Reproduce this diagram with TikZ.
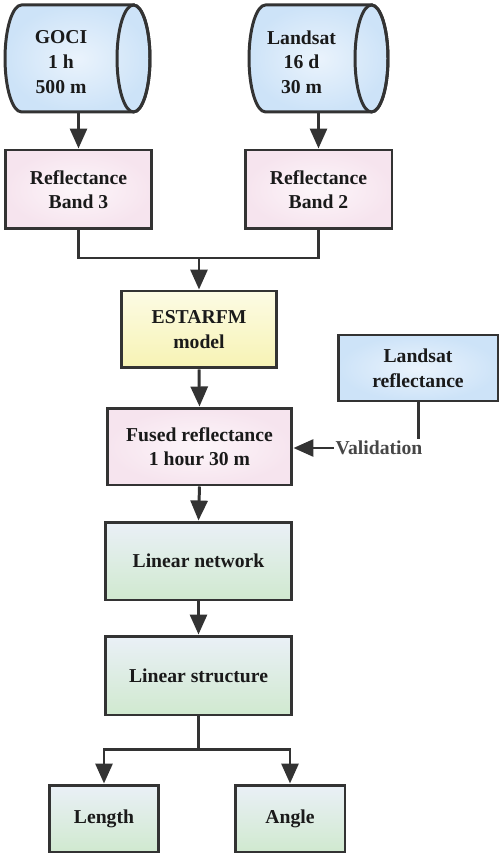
\documentclass[tikz,border=0pt]{standalone}
\usepackage{fontspec}
\setmainfont{Liberation Serif}
\usepackage{tikz}
\usetikzlibrary{arrows.meta,calc,positioning}

\definecolor{edge}{HTML}{333333}
\definecolor{ink}{HTML}{1A1A1A}
\definecolor{bluein}{HTML}{EAF3FC}
\definecolor{blueout}{HTML}{CDE3F8}
\definecolor{pinkin}{HTML}{FDF6FA}
\definecolor{pinkout}{HTML}{F6E4EE}
\definecolor{yeltop}{HTML}{FCFBE4}
\definecolor{yelbot}{HTML}{F7F3B4}
\definecolor{grntop}{HTML}{EAF0F7}
\definecolor{grnbot}{HTML}{D0E9CF}

\tikzset{
  base/.style={draw=edge,line width=1.7pt,align=center,text=ink,
    font=\bfseries\fontsize{11.2}{14}\selectfont,inner sep=2pt},
  cyltext/.style={base,draw=none,rectangle},
  pinkbox/.style={base,rectangle,shade,inner color=pinkin,outer color=pinkout},
  yelbox/.style={base,rectangle,shade,top color=yeltop,bottom color=yelbot},
  bluebox/.style={base,rectangle,shade,inner color=bluein,outer color=blueout},
  grnbox/.style={base,rectangle,shade,top color=grntop,bottom color=grnbot},
  link/.style={draw=edge,line width=1.7pt},
  arr/.style={link,-{Triangle[length=4mm,width=3.4mm]}}
}

\begin{document}
\begin{tikzpicture}[x=0.02cm,y=-0.02cm]
\useasboundingbox (0,0) rectangle (500,857);
% data cylinders
\foreach \l/\r in {5/150,249/388}{
  \path[shade,inner color=bluein,outer color=blueout,draw=edge,line width=1.7pt]
    ({\r-16.5},5) -- ({\l+16.5},5)
    arc[start angle=90,end angle=270,x radius=0.33cm,y radius=1.07cm]
    -- ({\r-16.5},112)
    arc[start angle=-90,end angle=90,x radius=0.33cm,y radius=1.07cm] -- cycle;
  \draw[edge,line width=1.7pt] ({\r-16.5},58.5) ellipse[x radius=0.33cm,y radius=1.07cm];
}
\node[cyltext,minimum height=2cm] (goci) at (61,62) {GOCI\\1 h\\500 m};
\node[cyltext,minimum height=2cm] (lsat) at (301.5,62) {Landsat\\16 d\\30 m};
% bands
\node[pinkbox,minimum width=2.94cm,minimum height=1.58cm] (band3) at (78.5,189.5) {Reflectance\\Band 3};
\node[pinkbox,minimum width=2.94cm,minimum height=1.58cm] (band2) at (318.5,189.5) {Reflectance\\Band 2};
\draw[arr] (band3.north |- goci.south) -- (band3.north);
\draw[arr] (band2.north |- lsat.south) -- (band2.north);
% fusion
\node[yelbox,minimum width=3.12cm,minimum height=1.54cm] (estarfm) at (199,329.5) {ESTARFM\\model};
\coordinate (j1) at (199,258);
\draw[link] (band3.south) |- (j1) -| (band2.south);
\draw[arr] (j1) -- (estarfm.north);
\node[pinkbox,minimum width=3.7cm,minimum height=1.54cm] (fused) at (199.5,446.5) {Fused reflectance\\1 hour 30 m};
\draw[arr] (estarfm.south) -- (fused.north);
% validation
\node[bluebox,minimum width=3.2cm,minimum height=1.32cm] (lref) at (418,368) {Landsat\\reflectance};
\node[font=\bfseries\fontsize{11.2}{14}\selectfont,text=edge!90,inner sep=1pt] (val) at (379,448) {Validation};
\draw[link] (lref.south) -- (lref.south |- val.north);
\draw[arr] (val.west) -- (fused.east |- val.west);
% linear features
\node[grnbox,minimum width=3.74cm,minimum height=1.56cm] (net) at (198.5,561) {Linear network};
\node[grnbox,minimum width=3.74cm,minimum height=1.58cm] (struct) at (198.5,675.5) {Linear structure};
\draw[arr] (fused.south) -- (net.north);
\draw[arr] (net.south) -- (struct.north);
\node[grnbox,minimum width=2.2cm,minimum height=1.34cm] (length) at (104,818.5) {Length};
\node[grnbox,minimum width=2.2cm,minimum height=1.34cm] (angle) at (290,818.5) {Angle};
\coordinate (j2) at (198.5,749);
\draw[link] (struct.south) -- (j2);
\draw[arr] (j2) -| (length.north);
\draw[arr] (j2) -| (angle.north);
\end{tikzpicture}
\end{document}
